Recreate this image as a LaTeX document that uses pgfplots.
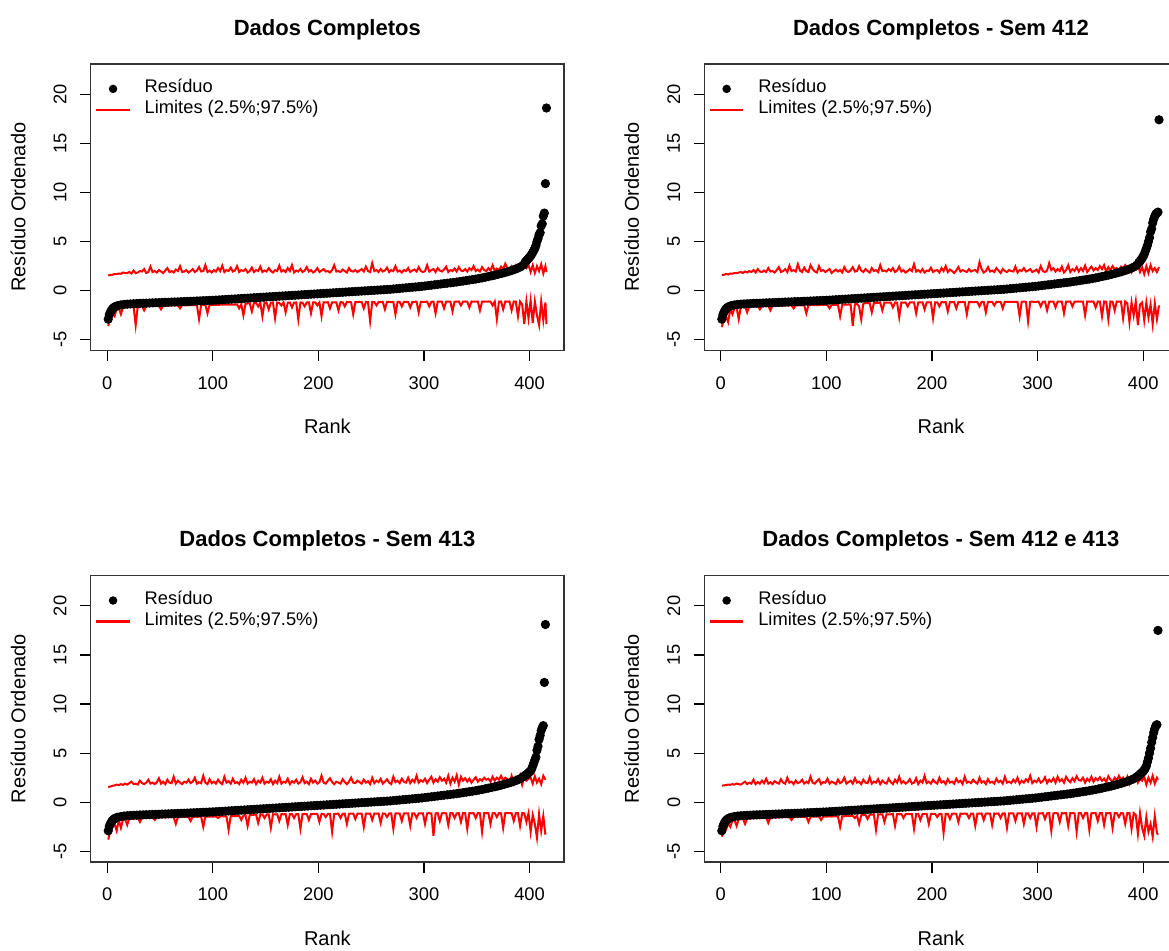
\documentclass[border=0pt]{standalone}
\usepackage{fontspec}
\setmainfont{Liberation Sans}
\usepackage{pgfplots}
\usepackage{pgfplotstable}
\pgfplotsset{compat=1.18}

% ---------- shared body of the sorted residual curve ----------
\pgfplotstableread[row sep=\\]{
r y\\
1 -2.9\\ 2 -2.45\\ 3 -2.2\\ 4 -2.0\\ 5 -1.85\\ 6 -1.75\\ 7 -1.67\\ 8 -1.6\\ 10 -1.52\\ 13 -1.45\\
16 -1.4\\ 19 -1.37\\ 22 -1.35\\ 25 -1.33\\ 28 -1.31\\ 31 -1.29\\ 34 -1.28\\ 37 -1.27\\ 40 -1.26\\ 43 -1.24\\
46 -1.23\\ 49 -1.22\\ 52 -1.2\\ 55 -1.19\\ 58 -1.18\\ 61 -1.16\\ 64 -1.15\\ 67 -1.14\\ 70 -1.12\\ 73 -1.11\\
76 -1.1\\ 79 -1.08\\ 82 -1.07\\ 85 -1.05\\ 88 -1.04\\ 91 -1.02\\ 94 -1.01\\ 97 -0.99\\ 100 -0.98\\ 103 -0.96\\
106 -0.94\\ 109 -0.92\\ 112 -0.9\\ 115 -0.88\\ 118 -0.86\\ 121 -0.84\\ 124 -0.82\\ 127 -0.8\\ 130 -0.78\\ 133 -0.76\\
136 -0.74\\ 139 -0.72\\ 142 -0.7\\ 145 -0.68\\ 148 -0.66\\ 151 -0.64\\ 154 -0.62\\ 157 -0.6\\ 160 -0.58\\ 163 -0.56\\
166 -0.54\\ 169 -0.52\\ 172 -0.5\\ 175 -0.48\\ 178 -0.46\\ 181 -0.44\\ 184 -0.42\\ 187 -0.4\\ 190 -0.38\\ 193 -0.36\\
196 -0.34\\ 199 -0.32\\ 202 -0.3\\ 205 -0.28\\ 208 -0.26\\ 211 -0.24\\ 214 -0.22\\ 217 -0.2\\ 220 -0.18\\ 223 -0.16\\
226 -0.14\\ 229 -0.12\\ 232 -0.1\\ 235 -0.08\\ 238 -0.06\\ 241 -0.04\\ 244 -0.02\\ 247 0.0\\ 250 0.02\\ 253 0.04\\
256 0.06\\ 259 0.08\\ 262 0.1\\ 265 0.12\\ 268 0.14\\ 271 0.17\\ 274 0.2\\ 277 0.23\\ 280 0.26\\ 283 0.29\\
286 0.32\\ 289 0.35\\ 292 0.38\\ 295 0.41\\ 298 0.44\\ 301 0.48\\ 304 0.52\\ 307 0.56\\ 310 0.6\\ 313 0.64\\
316 0.68\\ 319 0.72\\ 322 0.76\\ 325 0.8\\ 328 0.84\\ 331 0.88\\ 334 0.93\\ 337 0.98\\ 340 1.03\\ 343 1.08\\
346 1.13\\ 349 1.18\\ 352 1.24\\ 355 1.3\\ 358 1.37\\ 361 1.44\\ 364 1.51\\ 367 1.58\\ 370 1.66\\ 373 1.74\\
376 1.83\\ 379 1.92\\ 382 2.02\\ 385 2.13\\ 388 2.25\\ 391 2.4\\ 394 2.6\\
}\resbody

% ---------- tails (largest residuals) ----------
\pgfplotstableread[row sep=\\]{
r y\\
396 2.95\\ 397 3.05\\ 398 3.15\\ 399 3.3\\ 400 3.4\\ 401 3.55\\ 402 3.7\\ 403 3.9\\ 404 4.1\\ 405 4.3\\
406 4.6\\ 407 5.0\\ 408 5.3\\ 409 5.7\\ 410 5.9\\ 411 6.6\\ 412 6.8\\ 413 7.6\\ 414 7.9\\ 415 10.9\\ 416 18.6\\
}\tailA
\pgfplotstableread[row sep=\\]{
r y\\
396 2.9\\ 397 3.0\\ 398 3.15\\ 399 3.3\\ 400 3.5\\ 401 3.7\\ 402 4.0\\ 403 4.3\\ 404 4.6\\ 405 5.0\\
406 5.4\\ 407 6.0\\ 408 6.3\\ 409 6.9\\ 410 7.3\\ 411 7.6\\ 412 7.8\\ 413 7.9\\ 414 8.0\\ 415 17.4\\
}\tailB
\pgfplotstableread[row sep=\\]{
r y\\
396 2.75\\ 397 2.8\\ 398 2.9\\ 399 3.0\\ 400 3.1\\ 401 3.2\\ 402 3.4\\ 403 3.7\\ 404 4.0\\ 405 4.3\\
406 4.6\\ 407 5.3\\ 408 5.7\\ 409 6.4\\ 410 6.8\\ 411 7.3\\ 412 7.6\\ 413 7.8\\ 414 12.2\\ 415 18.1\\
}\tailC
\pgfplotstableread[row sep=\\]{
r y\\
395 2.65\\ 396 2.75\\ 397 2.85\\ 398 2.95\\ 399 3.05\\ 400 3.15\\ 401 3.3\\ 402 3.45\\ 403 3.7\\ 404 4.1\\
405 4.5\\ 406 5.0\\ 407 5.5\\ 408 6.1\\ 409 6.6\\ 410 7.1\\ 411 7.5\\ 412 7.8\\ 413 7.9\\ 414 17.5\\
}\tailD

% ---------- limits (2.5%, 97.5%) per panel: rank, upper, lower ----------
\pgfplotstableread[row sep=\\]{
r up lo\\
1 1.55 -3.6\\ 3 1.6 -2.8\\ 5 1.62 -2.3\\ 7 1.7 -2.6\\ 9 1.68 -1.85\\ 11 1.75 -1.75\\ 13 1.72 -2.4\\ 15 1.85 -1.7\\ 17 1.78 -1.65\\ 19 1.8 -1.62\\
21 1.9 -1.6\\ 23 1.75 -1.58\\ 25 2.05 -1.6\\ 27 1.8 -3.5\\ 29 1.85 -1.57\\ 31 2.0 -1.55\\ 33 1.95 -1.56\\ 35 2.2 -2.0\\ 37 1.8 -1.55\\ 39 1.9 -1.54\\
41 2.45 -1.54\\ 43 1.9 -1.53\\ 45 2.0 -1.55\\ 47 1.85 -1.52\\ 49 2.1 -1.53\\ 51 1.95 -1.9\\ 53 1.8 -1.52\\ 55 2.05 -1.5\\ 57 2.3 -1.51\\ 59 1.9 -1.5\\
61 2.0 -1.5\\ 63 1.85 -1.5\\ 65 2.15 -1.49\\ 67 2.0 -1.5\\ 69 2.5 -1.8\\ 71 1.9 -1.48\\ 73 1.95 -1.48\\ 75 2.1 -1.49\\ 77 1.85 -1.47\\ 79 2.0 -1.48\\
81 2.2 -1.47\\ 83 1.9 -1.46\\ 85 2.05 -1.46\\ 87 2.4 -2.9\\ 89 1.95 -1.46\\ 91 2.0 -1.45\\ 93 2.6 -1.45\\ 95 1.9 -2.3\\ 97 2.05 -1.45\\ 99 1.85 -1.44\\
101 2.1 -1.44\\ 103 1.95 -1.43\\ 105 2.3 -1.44\\ 107 2.0 -1.43\\ 109 2.55 -1.42\\ 111 1.9 -1.43\\ 113 2.1 -1.42\\ 115 2.0 -1.42\\ 117 2.35 -1.41\\ 119 1.95 -1.42\\
121 2.05 -1.41\\ 123 2.5 -1.4\\ 125 1.9 -1.8\\ 127 2.1 -1.38\\ 129 2.0 -2.5\\ 131 2.2 -1.35\\ 133 1.85 -1.3\\ 135 2.0 -1.28\\ 137 2.35 -2.1\\ 139 1.9 -1.25\\
141 2.1 -1.25\\ 143 2.0 -1.6\\ 145 2.45 -1.22\\ 147 1.9 -2.6\\ 149 2.05 -1.2\\ 151 1.95 -1.25\\ 153 2.3 -1.9\\ 155 2.0 -1.22\\ 157 1.85 -1.2\\ 159 2.1 -2.8\\
161 2.0 -1.2\\ 163 2.55 -1.25\\ 165 1.95 -1.5\\ 167 2.1 -1.2\\ 169 1.9 -2.2\\ 171 2.3 -1.22\\ 173 2.0 -1.2\\ 175 2.6 -1.7\\ 177 1.85 -1.21\\ 179 2.05 -1.2\\
181 1.95 -2.9\\ 183 2.2 -1.2\\ 185 1.9 -1.22\\ 187 2.05 -1.6\\ 189 2.4 -1.2\\ 191 1.95 -1.18\\ 193 2.1 -2.3\\ 195 1.85 -1.2\\ 197 2.0 -1.19\\ 199 2.3 -1.5\\
201 1.9 -1.2\\ 203 2.05 -2.6\\ 205 2.2 -1.18\\ 207 1.95 -1.2\\ 209 2.0 -1.17\\ 211 1.85 -1.8\\ 213 2.1 -1.19\\ 215 2.6 -1.18\\ 217 1.95 -1.2\\ 219 2.0 -2.0\\
221 1.9 -1.17\\ 223 2.15 -1.18\\ 225 2.0 -1.6\\ 227 1.85 -1.17\\ 229 2.3 -1.16\\ 231 2.0 -1.18\\ 233 1.95 -2.4\\ 235 2.1 -1.17\\ 237 1.9 -1.16\\ 239 2.05 -1.15\\
241 2.2 -1.16\\ 243 1.95 -1.8\\ 245 2.45 -1.15\\ 247 2.0 -1.17\\ 249 1.9 -3.1\\ 251 2.8 -1.15\\ 253 2.0 -1.16\\ 255 2.1 -1.5\\ 257 1.9 -1.15\\ 259 2.2 -1.16\\
261 1.95 -1.15\\ 263 2.05 -1.9\\ 265 2.35 -1.14\\ 267 1.9 -1.15\\ 269 2.1 -1.16\\ 271 2.0 -1.14\\ 273 2.5 -2.4\\ 275 1.95 -1.15\\ 277 2.05 -1.14\\ 279 1.85 -1.6\\
281 2.1 -1.14\\ 283 2.0 -1.13\\ 285 2.3 -1.15\\ 287 1.9 -1.7\\ 289 2.05 -1.14\\ 291 2.15 -1.13\\ 293 1.95 -1.12\\ 295 2.4 -2.2\\ 297 2.0 -1.14\\ 299 1.9 -1.13\\
301 2.0 -1.13\\ 303 2.6 -1.12\\ 305 1.95 -1.6\\ 307 2.1 -1.13\\ 309 2.2 -1.12\\ 311 1.9 -2.3\\ 313 2.3 -1.12\\ 315 2.05 -1.11\\ 317 1.95 -1.13\\ 319 2.15 -1.8\\
321 2.45 -1.12\\ 323 1.9 -1.11\\ 325 2.1 -1.12\\ 327 2.0 -2.1\\ 329 2.25 -1.11\\ 331 1.95 -1.12\\ 333 2.4 -1.1\\ 335 2.05 -1.5\\ 337 2.0 -1.11\\ 339 2.2 -1.1\\
341 1.95 -1.12\\ 343 2.3 -1.7\\ 345 2.1 -1.1\\ 347 2.5 -1.11\\ 349 2.0 -1.12\\ 351 2.15 -1.1\\ 353 1.95 -2.0\\ 355 2.4 -1.11\\ 357 2.1 -1.1\\ 359 2.0 -1.12\\
361 2.3 -1.1\\ 363 2.05 -1.11\\ 365 2.6 -1.5\\ 367 2.0 -1.1\\ 369 2.25 -2.9\\ 371 2.1 -1.11\\ 373 2.45 -1.1\\ 375 2.2 -1.9\\ 377 2.75 -1.1\\ 379 2.3 -1.12\\
381 2.1 -1.1\\ 383 2.5 -2.0\\ 385 2.3 -1.1\\ 387 2.6 -1.12\\ 389 2.2 -2.6\\ 391 2.7 -1.1\\ 393 2.4 -1.4\\ 395 2.5 -3.4\\ 397 2.3 -1.1\\ 399 2.6 -2.8\\
401 1.9 -1.0\\ 403 2.6 -3.3\\ 405 1.8 -1.1\\ 407 2.5 -2.5\\ 409 2.0 -3.5\\ 411 2.7 -1.1\\ 413 1.75 -3.0\\ 415 2.5 -1.2\\ 416 1.9 -3.4\\
}\limA
\pgfplotstableread[row sep=\\]{
r up lo\\
1 1.6 -3.7\\ 3 1.62 -2.9\\ 5 1.7 -2.6\\ 7 1.65 -3.2\\ 9 1.75 -1.9\\ 11 1.72 -2.4\\ 13 1.8 -1.75\\ 15 1.78 -1.72\\ 17 1.85 -2.9\\ 19 1.9 -1.65\\
21 1.8 -1.62\\ 23 1.95 -1.6\\ 25 1.85 -2.2\\ 27 2.0 -1.6\\ 29 1.9 -1.58\\ 31 2.1 -1.57\\ 33 1.85 -1.58\\ 35 2.2 -1.56\\ 37 1.95 -1.9\\ 39 1.9 -1.55\\
41 2.05 -1.55\\ 43 1.9 -1.54\\ 45 2.3 -1.54\\ 47 1.95 -2.0\\ 49 2.0 -1.53\\ 51 1.85 -1.52\\ 53 2.1 -1.53\\ 55 2.4 -1.52\\ 57 1.9 -1.51\\ 59 2.0 -1.52\\
61 2.2 -1.5\\ 63 1.9 -1.51\\ 65 2.55 -1.5\\ 67 2.0 -1.49\\ 69 2.1 -1.8\\ 71 1.95 -1.5\\ 73 2.7 -1.49\\ 75 2.05 -1.48\\ 77 1.9 -1.49\\ 79 2.35 -1.48\\
81 2.0 -2.3\\ 83 1.9 -1.48\\ 85 2.6 -1.47\\ 87 2.2 -1.47\\ 89 1.95 -1.46\\ 91 1.85 -1.47\\ 93 2.5 -1.46\\ 95 2.0 -1.45\\ 97 2.1 -1.46\\ 99 1.9 -1.45\\
101 2.05 -1.45\\ 103 2.2 -1.8\\ 105 1.8 -1.44\\ 107 2.0 -1.44\\ 109 2.15 -1.43\\ 111 1.95 -1.44\\ 113 2.1 -2.6\\ 115 1.85 -1.43\\ 117 2.4 -1.42\\ 119 2.0 -1.42\\
121 1.9 -1.41\\ 123 2.1 -1.4\\ 125 2.4 -3.6\\ 127 1.95 -1.38\\ 129 2.0 -1.35\\ 131 2.5 -1.6\\ 133 2.05 -2.9\\ 135 1.9 -1.3\\ 137 2.2 -1.28\\ 139 2.0 -1.27\\
141 1.85 -1.25\\ 143 2.3 -2.2\\ 145 2.0 -1.24\\ 147 2.1 -1.25\\ 149 1.9 -1.23\\ 151 2.6 -1.22\\ 153 2.0 -2.0\\ 155 2.05 -1.22\\ 157 1.95 -1.21\\ 159 2.2 -1.22\\
161 2.0 -1.21\\ 163 2.3 -1.7\\ 165 1.9 -1.2\\ 167 2.05 -1.21\\ 169 2.45 -2.7\\ 171 1.95 -1.2\\ 173 2.1 -1.21\\ 175 1.85 -1.2\\ 177 2.0 -1.6\\ 179 2.2 -1.2\\
181 2.0 -1.2\\ 183 2.7 -1.19\\ 185 1.95 -2.3\\ 187 2.1 -1.2\\ 189 1.9 -1.19\\ 191 2.2 -1.18\\ 193 1.85 -1.9\\ 195 2.05 -1.19\\ 197 2.0 -1.18\\ 199 2.35 -1.19\\
201 1.9 -2.8\\ 203 2.05 -1.18\\ 205 2.1 -1.18\\ 207 1.85 -1.6\\ 209 2.3 -1.17\\ 211 2.0 -1.18\\ 213 2.5 -1.17\\ 215 1.9 -2.1\\ 217 2.15 -1.17\\ 219 2.0 -1.16\\
221 1.8 -1.17\\ 223 2.05 -1.8\\ 225 2.4 -1.16\\ 227 1.95 -1.17\\ 229 2.1 -1.16\\ 231 2.0 -1.15\\ 233 1.9 -2.4\\ 235 2.2 -1.16\\ 237 1.95 -1.15\\ 239 2.05 -1.16\\
241 2.1 -1.15\\ 243 1.9 -1.16\\ 245 2.9 -1.6\\ 247 2.2 -1.15\\ 249 1.85 -1.14\\ 251 2.0 -2.2\\ 253 2.4 -1.15\\ 255 1.95 -1.14\\ 257 2.05 -1.15\\ 259 1.9 -1.5\\
261 2.3 -1.14\\ 263 2.05 -1.15\\ 265 1.8 -1.14\\ 267 2.2 -1.8\\ 269 2.0 -1.13\\ 271 1.9 -1.14\\ 273 2.1 -1.13\\ 275 2.0 -1.15\\ 277 1.95 -1.14\\ 279 2.45 -1.13\\
281 1.85 -1.14\\ 283 2.1 -2.6\\ 285 2.0 -1.13\\ 287 2.3 -1.12\\ 289 1.95 -1.13\\ 291 2.05 -3.1\\ 293 2.2 -1.13\\ 295 1.9 -1.12\\ 297 2.0 -1.14\\ 299 2.15 -1.13\\
301 1.85 -1.12\\ 303 2.5 -1.6\\ 305 2.0 -1.13\\ 307 1.9 -1.12\\ 309 2.05 -2.0\\ 311 2.8 -1.12\\ 313 2.1 -1.11\\ 315 2.3 -1.12\\ 317 1.95 -1.7\\ 319 2.2 -1.11\\
321 2.0 -1.12\\ 323 2.45 -1.11\\ 325 1.85 -2.3\\ 327 2.1 -1.12\\ 329 2.6 -1.11\\ 331 1.9 -1.1\\ 333 2.2 -1.6\\ 335 2.0 -1.11\\ 337 2.4 -1.12\\ 339 1.95 -1.1\\
341 2.3 -1.11\\ 343 2.0 -1.12\\ 345 2.55 -2.5\\ 347 1.9 -1.1\\ 349 2.2 -1.11\\ 351 2.45 -1.1\\ 353 2.05 -1.12\\ 355 2.3 -1.7\\ 357 2.1 -1.1\\ 359 2.5 -1.11\\
361 2.2 -2.6\\ 363 2.6 -1.1\\ 365 1.9 -1.11\\ 367 2.4 -2.9\\ 369 2.1 -1.1\\ 371 2.5 -1.12\\ 373 2.2 -2.0\\ 375 2.3 -1.1\\ 377 2.1 -1.11\\ 379 2.45 -1.1\\
381 2.3 -2.8\\ 383 2.6 -1.1\\ 385 2.2 -1.3\\ 387 2.4 -3.2\\ 389 1.9 -1.2\\ 391 2.5 -2.5\\ 393 2.3 -1.1\\ 395 2.6 -3.5\\ 397 1.9 -1.4\\ 399 2.4 -1.2\\
401 1.7 -3.0\\ 403 2.5 -1.2\\ 405 1.8 -2.7\\ 407 2.6 -1.4\\ 409 2.0 -3.4\\ 411 2.3 -1.3\\ 413 1.9 -2.9\\ 415 2.4 -1.5\\
}\limB
\pgfplotstableread[row sep=\\]{
r up lo\\
1 1.55 -3.8\\ 3 1.6 -2.9\\ 5 1.68 -2.5\\ 7 1.72 -2.2\\ 9 1.8 -2.9\\ 11 1.75 -1.8\\ 13 1.85 -2.6\\ 15 1.78 -1.75\\ 17 1.9 -1.7\\ 19 1.8 -2.3\\
21 1.95 -1.65\\ 23 2.1 -1.63\\ 25 1.85 -1.62\\ 27 1.9 -1.6\\ 29 1.8 -1.61\\ 31 2.2 -2.0\\ 33 1.95 -1.58\\ 35 1.85 -1.57\\ 37 2.0 -1.58\\ 39 2.3 -1.56\\
41 1.9 -1.56\\ 43 2.0 -1.55\\ 45 1.85 -1.8\\ 47 2.05 -1.54\\ 49 2.45 -1.54\\ 51 1.9 -1.53\\ 53 2.1 -1.52\\ 55 1.85 -1.53\\ 57 2.3 -1.52\\ 59 2.0 -1.51\\
61 1.95 -1.52\\ 63 2.6 -1.51\\ 65 1.9 -2.2\\ 67 2.2 -1.5\\ 69 2.0 -1.5\\ 71 1.85 -1.49\\ 73 2.1 -1.5\\ 75 2.0 -1.48\\ 77 2.3 -1.49\\ 79 1.95 -1.9\\
81 2.1 -1.48\\ 83 2.5 -1.47\\ 85 1.9 -1.48\\ 87 2.05 -1.47\\ 89 1.95 -1.46\\ 91 2.7 -2.5\\ 93 2.0 -1.46\\ 95 1.85 -1.45\\ 97 2.35 -1.46\\ 99 1.95 -1.45\\
101 2.1 -1.45\\ 103 1.9 -1.44\\ 105 2.3 -1.6\\ 107 2.0 -1.44\\ 109 1.85 -1.43\\ 111 2.6 -1.44\\ 113 2.0 -1.43\\ 115 2.15 -2.8\\ 117 1.9 -1.42\\ 119 2.4 -1.41\\
121 1.95 -1.4\\ 123 2.05 -1.4\\ 125 1.85 -1.38\\ 127 2.3 -1.8\\ 129 2.0 -1.35\\ 131 2.5 -1.32\\ 133 1.9 -2.4\\ 135 2.1 -1.3\\ 137 2.0 -1.28\\ 139 2.35 -1.27\\
141 1.85 -1.26\\ 143 2.2 -2.1\\ 145 2.0 -1.25\\ 147 2.5 -1.24\\ 149 1.9 -1.6\\ 151 2.1 -1.24\\ 153 2.0 -1.23\\ 155 2.35 -2.6\\ 157 1.85 -1.22\\ 159 2.2 -1.23\\
161 1.95 -1.22\\ 163 2.6 -1.9\\ 165 1.9 -1.21\\ 167 2.1 -1.22\\ 169 2.0 -1.21\\ 171 2.4 -2.3\\ 173 1.85 -1.2\\ 175 2.15 -1.21\\ 177 2.0 -1.6\\ 179 2.3 -1.2\\
181 1.9 -1.21\\ 183 2.05 -2.7\\ 185 2.55 -1.2\\ 187 1.95 -1.19\\ 189 2.1 -1.2\\ 191 1.85 -1.8\\ 193 2.4 -1.19\\ 195 2.0 -1.2\\ 197 2.2 -1.18\\ 199 1.9 -1.19\\
201 2.05 -2.0\\ 203 2.7 -1.18\\ 205 2.0 -1.19\\ 207 1.9 -1.5\\ 209 2.2 -1.18\\ 211 2.45 -1.17\\ 213 2.05 -3.0\\ 215 1.85 -1.18\\ 217 2.1 -1.17\\ 219 2.0 -1.16\\
221 1.9 -1.6\\ 223 2.35 -1.17\\ 225 2.05 -1.16\\ 227 1.85 -2.2\\ 229 2.1 -1.17\\ 231 2.5 -1.16\\ 233 2.0 -1.15\\ 235 1.95 -1.7\\ 237 2.2 -1.16\\ 239 2.05 -1.15\\
241 1.9 -1.16\\ 243 2.3 -2.5\\ 245 2.0 -1.15\\ 247 2.15 -1.16\\ 249 1.85 -1.15\\ 251 2.5 -1.8\\ 253 1.95 -1.14\\ 255 2.2 -1.15\\ 257 2.05 -1.14\\ 259 2.4 -2.1\\
261 1.9 -1.14\\ 263 2.1 -1.15\\ 265 2.35 -1.5\\ 267 2.0 -1.14\\ 269 1.85 -1.13\\ 271 2.6 -2.7\\ 273 2.05 -1.14\\ 275 2.2 -1.13\\ 277 1.95 -1.15\\ 279 2.4 -1.9\\
281 2.1 -1.13\\ 283 2.0 -1.14\\ 285 2.5 -1.13\\ 287 1.95 -2.4\\ 289 2.3 -1.12\\ 291 2.05 -1.13\\ 293 2.7 -1.6\\ 295 2.0 -1.12\\ 297 2.25 -1.13\\ 299 2.1 -1.12\\
301 2.4 -2.2\\ 303 1.95 -1.12\\ 305 2.3 -1.11\\ 307 2.6 -1.13\\ 309 2.0 -3.4\\ 311 2.35 -1.12\\ 313 2.1 -1.11\\ 315 2.55 -1.9\\ 317 2.2 -1.12\\ 319 2.4 -1.11\\
321 2.0 -1.12\\ 323 2.7 -2.3\\ 325 1.9 -1.11\\ 327 2.5 -1.1\\ 329 2.1 -1.6\\ 331 2.75 -1.12\\ 333 1.8 -1.11\\ 335 2.6 -2.0\\ 337 2.2 -1.1\\ 339 2.45 -1.11\\
341 2.1 -2.7\\ 343 2.4 -1.1\\ 345 2.0 -1.12\\ 347 2.3 -1.11\\ 349 2.55 -1.6\\ 351 2.1 -1.1\\ 353 2.35 -1.12\\ 355 2.2 -3.0\\ 357 2.5 -1.1\\ 359 2.3 -1.11\\
361 2.4 -1.1\\ 363 2.1 -2.2\\ 365 2.6 -1.12\\ 367 2.2 -1.1\\ 369 2.5 -1.5\\ 371 2.3 -1.1\\ 373 2.7 -1.12\\ 375 2.2 -2.6\\ 377 2.5 -1.1\\ 379 2.35 -1.11\\
381 2.0 -1.1\\ 383 2.7 -1.12\\ 385 1.9 -1.9\\ 387 2.5 -1.1\\ 389 2.1 -1.11\\ 391 2.75 -2.4\\ 393 1.8 -1.1\\ 395 2.6 -1.12\\ 397 2.2 -2.0\\ 399 2.4 -1.1\\
401 2.5 -3.0\\ 403 1.9 -1.3\\ 405 2.65 -2.2\\ 407 2.0 -3.6\\ 409 2.4 -1.2\\ 411 1.85 -2.9\\ 413 2.7 -1.4\\ 415 2.3 -3.3\\
}\limC
\pgfplotstableread[row sep=\\]{
r up lo\\
1 1.7 -3.5\\ 3 1.72 -3.0\\ 5 1.75 -2.8\\ 7 1.8 -2.1\\ 9 1.78 -2.5\\ 11 1.85 -1.9\\ 13 1.8 -1.8\\ 15 1.9 -2.4\\ 17 1.85 -1.72\\ 19 1.8 -1.7\\
21 1.95 -1.68\\ 23 2.1 -2.2\\ 25 1.85 -1.65\\ 27 2.0 -1.63\\ 29 1.9 -1.62\\ 31 2.3 -1.6\\ 33 1.85 -1.61\\ 35 2.05 -1.6\\ 37 1.9 -1.58\\ 39 2.2 -1.58\\
41 1.95 -1.57\\ 43 2.4 -1.56\\ 45 1.9 -2.1\\ 47 2.05 -1.55\\ 49 1.85 -1.55\\ 51 2.15 -1.54\\ 53 2.0 -1.53\\ 55 1.9 -1.53\\ 57 2.35 -1.52\\ 59 2.0 -1.52\\
61 1.9 -1.51\\ 63 2.5 -1.5\\ 65 2.0 -1.51\\ 67 2.1 -1.8\\ 69 1.85 -1.5\\ 71 2.2 -1.49\\ 73 1.95 -1.5\\ 75 2.05 -1.48\\ 77 2.3 -1.49\\ 79 1.9 -1.48\\
81 2.1 -1.48\\ 83 1.95 -2.0\\ 85 2.6 -1.47\\ 87 2.0 -1.47\\ 89 1.9 -1.46\\ 91 2.15 -1.47\\ 93 2.35 -1.46\\ 95 1.85 -1.8\\ 97 2.05 -1.45\\ 99 2.0 -1.46\\
101 2.4 -1.45\\ 103 1.9 -1.44\\ 105 2.1 -1.45\\ 107 2.0 -1.44\\ 109 1.85 -1.43\\ 111 2.3 -1.44\\ 113 1.95 -2.5\\ 115 2.1 -1.43\\ 117 2.5 -1.42\\ 119 1.9 -1.42\\
121 2.05 -1.41\\ 123 2.2 -1.4\\ 125 1.9 -1.39\\ 127 2.45 -1.6\\ 129 2.0 -1.36\\ 131 2.1 -2.2\\ 133 1.85 -1.32\\ 135 2.3 -1.3\\ 137 2.0 -1.28\\ 139 1.95 -1.7\\
141 2.55 -1.26\\ 143 1.9 -1.25\\ 145 2.1 -1.24\\ 147 2.0 -2.8\\ 149 2.35 -1.24\\ 151 1.85 -1.23\\ 153 2.2 -1.22\\ 155 2.0 -2.0\\ 157 1.9 -1.22\\ 159 2.4 -1.23\\
161 2.05 -1.22\\ 163 1.85 -1.21\\ 165 2.3 -2.4\\ 167 2.0 -1.21\\ 169 2.6 -1.22\\ 171 1.95 -1.2\\ 173 2.15 -1.6\\ 175 1.9 -1.21\\ 177 2.05 -1.2\\ 179 2.35 -1.21\\
181 1.9 -1.2\\ 183 2.0 -2.7\\ 185 2.45 -1.2\\ 187 1.85 -1.19\\ 189 2.2 -1.8\\ 191 2.0 -1.2\\ 193 2.7 -1.19\\ 195 1.95 -1.18\\ 197 2.1 -2.2\\ 199 1.9 -1.19\\
201 2.3 -1.18\\ 203 2.05 -1.19\\ 205 1.9 -1.5\\ 207 2.5 -1.18\\ 209 2.0 -1.17\\ 211 2.15 -3.1\\ 213 1.85 -1.18\\ 215 2.35 -1.17\\ 217 2.0 -1.7\\ 219 2.1 -1.17\\
221 1.9 -1.16\\ 223 2.4 -1.17\\ 225 2.05 -2.0\\ 227 2.2 -1.16\\ 229 1.85 -1.17\\ 231 2.6 -1.15\\ 233 2.0 -1.16\\ 235 2.1 -1.6\\ 237 1.95 -1.15\\ 239 2.3 -1.16\\
241 2.05 -2.4\\ 243 1.9 -1.15\\ 245 2.5 -1.16\\ 247 2.0 -1.14\\ 249 2.15 -1.8\\ 251 1.85 -1.15\\ 253 2.35 -1.14\\ 255 2.0 -1.15\\ 257 2.1 -2.3\\ 259 1.9 -1.14\\
261 2.4 -1.15\\ 263 2.05 -1.14\\ 265 2.2 -1.6\\ 267 1.9 -1.13\\ 269 2.6 -1.14\\ 271 2.0 -2.6\\ 273 2.1 -1.13\\ 275 1.95 -1.14\\ 277 2.3 -1.13\\ 279 2.05 -1.9\\
281 2.5 -1.13\\ 283 1.9 -1.14\\ 285 2.2 -1.12\\ 287 2.0 -2.2\\ 289 2.35 -1.13\\ 291 2.1 -1.12\\ 293 2.7 -1.6\\ 295 1.95 -1.13\\ 297 2.2 -1.12\\ 299 2.05 -2.5\\
301 2.4 -1.12\\ 303 2.0 -1.13\\ 305 2.15 -1.11\\ 307 2.55 -1.7\\ 309 1.95 -1.12\\ 311 2.3 -1.11\\ 313 2.1 -2.9\\ 315 2.45 -1.12\\ 317 2.0 -1.11\\ 319 2.6 -1.12\\
321 2.15 -2.0\\ 323 2.35 -1.11\\ 325 2.0 -1.12\\ 327 2.6 -1.1\\ 329 2.25 -2.4\\ 331 2.05 -1.11\\ 333 2.45 -1.1\\ 335 2.15 -1.12\\ 337 2.65 -3.0\\ 339 2.25 -1.11\\
341 2.2 -1.1\\ 343 2.5 -1.6\\ 345 2.0 -1.11\\ 347 2.4 -1.1\\ 349 2.15 -2.8\\ 351 2.6 -1.12\\ 353 2.1 -1.1\\ 355 2.45 -1.11\\ 357 2.25 -1.9\\ 359 2.55 -1.1\\
361 2.2 -1.11\\ 363 2.4 -2.3\\ 365 2.05 -1.1\\ 367 2.65 -1.12\\ 369 2.3 -1.1\\ 371 2.1 -2.6\\ 373 2.5 -1.11\\ 375 2.2 -1.1\\ 377 2.7 -1.5\\ 379 2.3 -1.1\\
381 2.5 -1.12\\ 383 2.0 -2.2\\ 385 2.6 -1.1\\ 387 1.9 -1.11\\ 389 2.45 -2.7\\ 391 2.1 -1.1\\ 393 2.65 -1.3\\ 395 2.0 -3.2\\ 397 2.4 -1.1\\ 399 2.2 -2.6\\
401 2.6 -3.4\\ 403 1.8 -1.5\\ 405 2.5 -3.0\\ 407 2.0 -2.2\\ 409 2.7 -3.5\\ 411 1.9 -1.4\\ 413 2.5 -3.1\\ 414 2.3 -3.3\\
}\limD

\pgfplotsset{
  rpanel/.style={
    scale only axis, width=236.65pt, height=143.2pt,
    xmin=-15.6, xmax=432.6, ymin=-6.08, ymax=23.08,
    xtick={0,100,200,300,400}, xticklabels={0,100,200,300,400},
    ytick={-5,0,5,10,15,20}, yticklabels={-5,0,5,10,15,20},
    tick align=outside, xtick pos=bottom, ytick pos=left,
    major tick length=5.3pt,
    every tick/.style={black, line width=0.6pt},
    axis line style={black!80, line width=0.7pt},
    tick label style={font=\fontsize{9.15}{11}\selectfont},
    xticklabel style={anchor=center},
    xticklabel shift=11pt,
    yticklabel style={rotate=90, anchor=center},
    yticklabel shift=10pt,
    label style={font=\fontsize{9.15}{11}\selectfont},
    xlabel={Rank}, ylabel={Resíduo Ordenado},
    every axis x label/.style={at={(axis description cs:0.5,-0.2654)}, anchor=center},
    every axis y label/.style={at={(axis description cs:-0.1536,0.5)}, anchor=center, rotate=90},
    every axis title/.style={at={(axis description cs:0.5,1.12)}, anchor=center, font=\bfseries\fontsize{11}{13}\selectfont},
    legend style={at={(axis description cs:0,1)}, anchor=north west, draw=none, fill=none,
      inner xsep=2.15pt, inner ysep=7pt, row sep=0pt, column sep=6pt,
      font=\fontsize{9.15}{11}\selectfont,
      nodes={inner xsep=1pt, inner ysep=0pt, text height=7.2pt, text depth=3.3pt}},
    legend cell align=left,
  },
  respts/.style={only marks, mark=*, mark size=2.1pt, color=black, mark options={fill=black, draw=black},
    legend image code/.code={\fill[black] (8.33pt,0pt) circle (1.9pt);}},
  limline/.style={red, line width=1pt, mark=none,
    legend image code/.code={\draw[red, line width=1pt] (0pt,0pt) -- (16.65pt,0pt);}},
}

\begin{document}
\begin{tikzpicture}
% top left
\begin{axis}[rpanel, at={(45.35pt,299.8pt)}, anchor=south west, title={Dados Completos}]
\addplot[respts] table[x=r, y=y] {\resbody};
\addlegendentry{Resíduo}
\addplot[respts, forget plot] table[x=r, y=y] {\tailA};
\addplot[limline] table[x=r, y=up] {\limA};
\addlegendentry{Limites (2.5\%;97.5\%)}
\addplot[limline, forget plot] table[x=r, y=lo] {\limA};
\end{axis}
% top right
\begin{axis}[rpanel, at={(352.15pt,299.8pt)}, anchor=south west, title={Dados Completos - Sem 412}]
\addplot[respts] table[x=r, y=y] {\resbody};
\addlegendentry{Resíduo}
\addplot[respts, forget plot] table[x=r, y=y] {\tailB};
\addplot[limline] table[x=r, y=up] {\limB};
\addlegendentry{Limites (2.5\%;97.5\%)}
\addplot[limline, forget plot] table[x=r, y=lo] {\limB};
\end{axis}
% bottom left
\begin{axis}[rpanel, at={(45.35pt,44.0pt)}, anchor=south west, title={Dados Completos - Sem 413}]
\addplot[respts] table[x=r, y=y] {\resbody};
\addlegendentry{Resíduo}
\addplot[respts, forget plot] table[x=r, y=y] {\tailC};
\addplot[limline] table[x=r, y=up] {\limC};
\addlegendentry{Limites (2.5\%;97.5\%)}
\addplot[limline, forget plot] table[x=r, y=lo] {\limC};
\end{axis}
% bottom right
\begin{axis}[rpanel, at={(352.15pt,44.0pt)}, anchor=south west, title={Dados Completos - Sem 412 e 413}]
\addplot[respts] table[x=r, y=y] {\resbody};
\addlegendentry{Resíduo}
\addplot[respts, forget plot] table[x=r, y=y] {\tailD};
\addplot[limline] table[x=r, y=up] {\limD};
\addlegendentry{Limites (2.5\%;97.5\%)}
\addplot[limline, forget plot] table[x=r, y=lo] {\limD};
\end{axis}
\pgfresetboundingbox
\path[use as bounding box] (0pt,0pt) rectangle (584.5pt,475pt);
\end{tikzpicture}
\end{document}
